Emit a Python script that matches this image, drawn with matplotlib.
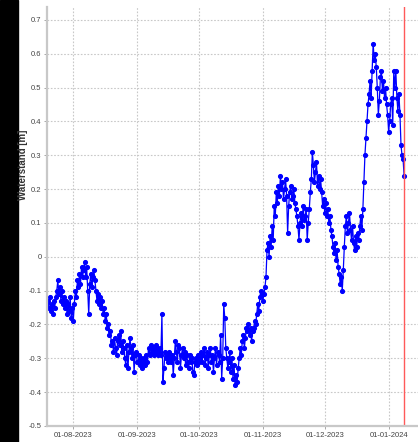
import numpy as np
import pandas as pd
import matplotlib
matplotlib.use("Agg")
import matplotlib.pyplot as plt
import matplotlib.dates as mdates
from matplotlib.ticker import FuncFormatter, MultipleLocator

# Waterstand readings, two per day (00:00 / 12:00)
jul = [-0.13, -0.15, -0.12, -0.16, -0.14, -0.17, -0.13, -0.15, -0.12, -0.10,
       -0.07, -0.11, -0.09, -0.13, -0.10, -0.14, -0.12, -0.15, -0.13, -0.17,
       -0.14, -0.16, -0.12, -0.18, -0.15, -0.19]
aug = [-0.14, -0.10, -0.12, -0.07, -0.09, -0.05, -0.08, -0.03, -0.06, -0.04,
       -0.015, -0.06, -0.03, -0.10, -0.17, -0.08, -0.05, -0.09, -0.06, -0.04,
       -0.07, -0.10, -0.13, -0.11, -0.14, -0.12, -0.15, -0.13, -0.17, -0.15,
       -0.19, -0.17, -0.21, -0.20, -0.23, -0.22, -0.26, -0.25, -0.28, -0.24,
       -0.27, -0.29, -0.25, -0.23, -0.26, -0.22, -0.28, -0.25, -0.27, -0.30,
       -0.32, -0.26, -0.33, -0.28, -0.24, -0.27, -0.30, -0.26, -0.34, -0.29,
       -0.28, -0.31]
sep = [-0.31, -0.29, -0.32, -0.30, -0.33, -0.31, -0.30, -0.32, -0.29, -0.31,
       -0.27, -0.29, -0.26, -0.28, -0.27, -0.29, -0.28, -0.26, -0.27, -0.29,
       -0.28, -0.27, -0.29, -0.17, -0.37, -0.33, -0.28, -0.30, -0.29, -0.31,
       -0.28, -0.30, -0.31, -0.29, -0.35, -0.30, -0.25, -0.28, -0.31, -0.26,
       -0.27, -0.33, -0.29, -0.27, -0.30, -0.28, -0.32, -0.29, -0.31, -0.33,
       -0.29, -0.31, -0.30, -0.34, -0.35, -0.31, -0.30, -0.32, -0.29, -0.31]
oct_ = [-0.30, -0.28, -0.31, -0.29, -0.27, -0.32, -0.30, -0.28, -0.33, -0.29,
        -0.27, -0.31, -0.29, -0.34, -0.30, -0.27, -0.32, -0.28, -0.29, -0.31,
        -0.23, -0.36, -0.30, -0.14, -0.18, -0.27, -0.30, -0.33, -0.31, -0.28,
        -0.34, -0.30, -0.36, -0.32, -0.38, -0.35, -0.37, -0.33, -0.30, -0.27,
        -0.29, -0.25, -0.23, -0.27, -0.24, -0.21, -0.22, -0.20, -0.23, -0.21,
        -0.25, -0.22, -0.21, -0.19, -0.20, -0.17, -0.14, -0.16, -0.12, -0.10,
        -0.11, -0.13]
nov = [-0.11, -0.09, -0.06, 0.02, 0.04, 0.00, 0.06, 0.03, 0.09, 0.05,
       0.15, 0.12, 0.19, 0.16, 0.21, 0.18, 0.24, 0.20, 0.22, 0.17,
       0.20, 0.23, 0.18, 0.07, 0.15, 0.19, 0.21, 0.17, 0.18, 0.20,
       0.16, 0.14, 0.12, 0.09, 0.05, 0.10, 0.13, 0.09, 0.15, 0.11,
       0.12, 0.14, 0.05, 0.10, 0.14, 0.19, 0.23, 0.31, 0.27, 0.22,
       0.25, 0.28, 0.21, 0.24, 0.20, 0.23, 0.19, 0.15, 0.17, 0.13]
dec = [0.16, 0.12, 0.14, 0.10, 0.12, 0.08, 0.06, 0.03, 0.01, 0.04,
       -0.01, 0.02, -0.03, -0.05, -0.08, -0.06, -0.10, -0.04, 0.03, 0.09,
       0.12, 0.07, 0.10, 0.13, 0.08, 0.05, 0.09, 0.04, 0.02, 0.06,
       0.03, 0.07, 0.05, 0.09, 0.12, 0.08, 0.14, 0.22, 0.30, 0.35,
       0.40, 0.45, 0.48, 0.52, 0.47, 0.55, 0.63, 0.58, 0.60, 0.56,
       0.50, 0.42, 0.46, 0.53, 0.55, 0.49, 0.52, 0.47, 0.50, 0.45,
       0.42, 0.37]
jan = [0.40, 0.45, 0.47, 0.39, 0.55, 0.50, 0.55, 0.47, 0.43, 0.48,
       0.42, 0.33, 0.30, 0.29, 0.24]

values = jul + aug + sep + oct_ + nov + dec + jan
times = pd.date_range("2023-07-19 12:00", periods=len(values), freq="12h")
now = pd.Timestamp("2024-01-08 06:00")

plt.rcParams['font.family'] = ['Liberation Sans Narrow', 'Liberation Sans', 'DejaVu Sans']

fig = plt.figure(figsize=(4.18, 4.42), dpi=100)
# black strip on the left of the screenshot
fig.patches.append(plt.Rectangle((0, 0), 18 / 418, 1, transform=fig.transFigure,
                                 color='black', zorder=0))
ax = fig.add_axes([47 / 418, 16 / 442, 1 - 47 / 418, 419 / 442])

ax.plot(times, values, color='#0000ff', lw=0.9, marker='o', ms=2.7, mec='#0000ff')
ax.axvline(now, color='#ff5a5a', lw=1)

ax.set_xlim(pd.Timestamp("2023-07-19 06:00"), pd.Timestamp("2024-01-15 06:00"))
ax.set_ylim(-0.5, 0.738)
ax.yaxis.set_major_locator(MultipleLocator(0.1))
ax.yaxis.set_major_formatter(FuncFormatter(lambda v, p: f"{v:g}" if abs(v) > 1e-9 else "0"))
ax.xaxis.set_major_locator(mdates.MonthLocator())
ax.xaxis.set_major_formatter(mdates.DateFormatter("%d-%m-%Y"))

ax.grid(True, ls=(0, (1.5, 1.5)), color='#c8c8c8', lw=0.8)
for s in ['top', 'right']:
    ax.spines[s].set_visible(False)
for s in ['left', 'bottom']:
    ax.spines[s].set_color('#c8c8c8')
    ax.spines[s].set_linewidth(1.6)
ax.tick_params(axis='both', labelsize=5.5, labelcolor='#444444', color='#999999',
               length=2, width=0.6, pad=2)

fig.text(23 / 418, 1 - 165 / 442, "Waterstand [m]", rotation=90, ha='center', va='center',
         fontsize=7, fontweight='bold', color='#333333')

fig.savefig("out.png", dpi=100)
